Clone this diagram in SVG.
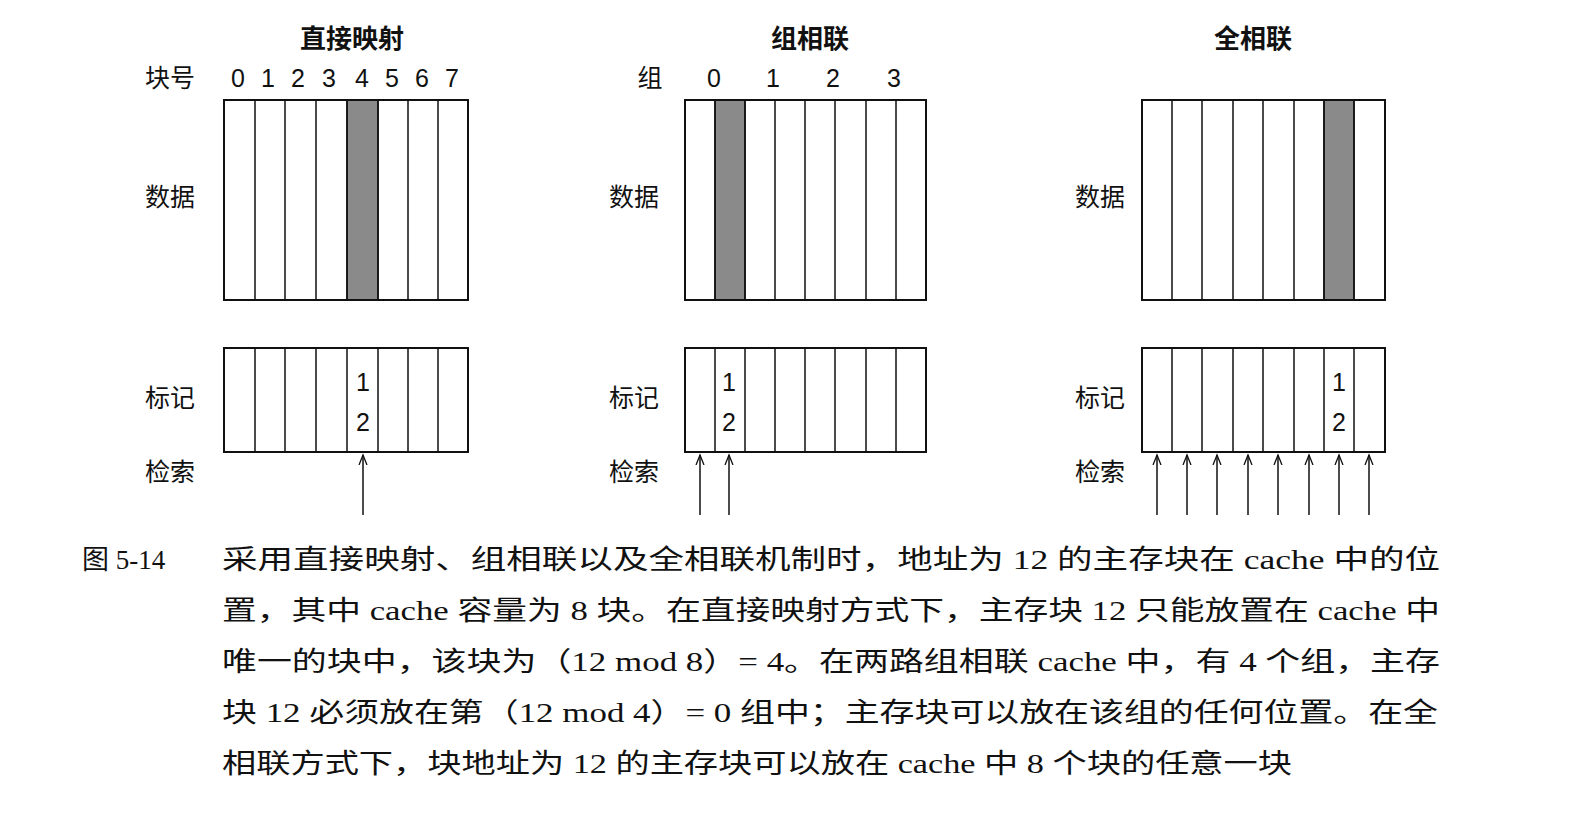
<svg xmlns="http://www.w3.org/2000/svg" width="1588" height="818" viewBox="0 0 1588 818">
<style>
.b{fill:none;stroke:#111;stroke-width:2}
.l{stroke:#111;stroke-width:1.5}
.sh{fill:#8a8a8a;stroke:#111;stroke-width:1.5}
.t{font-family:"Noto Sans CJK SC","Liberation Sans",sans-serif;font-size:25px;fill:#111;text-anchor:middle}
.h{font-family:"Noto Sans CJK SC",sans-serif;font-size:26px;font-weight:bold;fill:#111;text-anchor:middle}
.n{font-family:"Liberation Sans",sans-serif;font-size:25px;fill:#111;text-anchor:middle}
.c{font-family:"Liberation Serif","Noto Sans CJK SC",serif;font-size:27px;fill:#111}
</style>
<defs><marker id="a" markerWidth="12" markerHeight="12" refX="10" refY="5" orient="auto" markerUnits="userSpaceOnUse"><path d="M0,1 L10,5 L0,9" fill="none" stroke="#111" stroke-width="1.3"/></marker></defs>
<g id="direct">
<text class="h" x="352" y="48">直接映射</text>
<text class="t" x="170" y="87">块号</text>
<g class="n"><text x="238" y="87">0</text><text x="268" y="87">1</text><text x="298" y="87">2</text><text x="329" y="87">3</text><text x="362" y="87">4</text><text x="392" y="87">5</text><text x="422" y="87">6</text><text x="452" y="87">7</text></g>
<text class="t" x="170" y="206">数据</text><text class="t" x="170" y="407">标记</text><text class="t" x="170" y="481">检索</text>
<rect class="sh" x="347" y="100" width="31" height="200"/>
<rect class="b" x="224" y="100" width="244" height="200"/>
<rect class="b" x="224" y="348" width="244" height="104"/>
<path class="l" d="M255,100V300M285,100V300M316,100V300M347,100V300M378,100V300M408,100V300M438,100V300M255,348V452M285,348V452M316,348V452M347,348V452M378,348V452M408,348V452M438,348V452"/>
<text class="n" x="363" y="391">1</text><text class="n" x="363" y="431">2</text>
</g>
<g id="setassoc">
<text class="h" x="810" y="48">组相联</text>
<text class="t" x="650" y="87">组</text>
<g class="n"><text x="714" y="87">0</text><text x="773" y="87">1</text><text x="833" y="87">2</text><text x="894" y="87">3</text></g>
<text class="t" x="634" y="206">数据</text><text class="t" x="634" y="407">标记</text><text class="t" x="634" y="481">检索</text>
<rect class="sh" x="715" y="100" width="30" height="200"/>
<rect class="b" x="685" y="100" width="241" height="200"/>
<rect class="b" x="685" y="348" width="241" height="104"/>
<path class="l" d="M715,100V300M745,100V300M775,100V300M805,100V300M835,100V300M866,100V300M896,100V300M715,348V452M745,348V452M775,348V452M805,348V452M835,348V452M866,348V452M896,348V452"/>
<text class="n" x="729" y="391">1</text><text class="n" x="729" y="431">2</text>
</g>
<g id="fullassoc">
<text class="h" x="1253" y="48">全相联</text>
<text class="t" x="1100" y="206">数据</text><text class="t" x="1100" y="407">标记</text><text class="t" x="1100" y="481">检索</text>
<rect class="sh" x="1324" y="100" width="30" height="200"/>
<rect class="b" x="1142" y="100" width="243" height="200"/>
<rect class="b" x="1142" y="348" width="243" height="104"/>
<path class="l" d="M1172,100V300M1202,100V300M1233,100V300M1263,100V300M1294,100V300M1324,100V300M1354,100V300M1172,348V452M1202,348V452M1233,348V452M1263,348V452M1294,348V452M1324,348V452M1354,348V452"/>
<text class="n" x="1339" y="391">1</text><text class="n" x="1339" y="431">2</text>
</g>
<g id="connectors" class="l" marker-end="url(#a)">
<path d="M363,515V455"/>
<path d="M700,515V455"/><path d="M729,515V455"/>
<path d="M1157,515V455"/><path d="M1187,515V455"/><path d="M1217,515V455"/><path d="M1248,515V455"/><path d="M1278,515V455"/><path d="M1309,515V455"/><path d="M1339,515V455"/><path d="M1369,515V455"/>
</g>
<g id="caption">
<text class="c" x="82" y="569">图 5-14</text>
<text class="c" x="222" y="569" textLength="1218" lengthAdjust="spacingAndGlyphs">采用直接映射、组相联以及全相联机制时，地址为 12 的主存块在 cache 中的位</text>
<text class="c" x="222" y="620" textLength="1218" lengthAdjust="spacingAndGlyphs">置，其中 cache 容量为 8 块。在直接映射方式下，主存块 12 只能放置在 cache 中</text>
<text class="c" x="222" y="671" textLength="1218" lengthAdjust="spacingAndGlyphs">唯一的块中，该块为（12 mod 8）= 4。在两路组相联 cache 中，有 4 个组，主存</text>
<text class="c" x="222" y="722" textLength="1216" lengthAdjust="spacingAndGlyphs">块 12 必须放在第（12 mod 4）= 0 组中；主存块可以放在该组的任何位置。在全</text>
<text class="c" x="222" y="773" textLength="1070" lengthAdjust="spacingAndGlyphs">相联方式下，块地址为 12 的主存块可以放在 cache 中 8 个块的任意一块</text>
</g>
</svg>
